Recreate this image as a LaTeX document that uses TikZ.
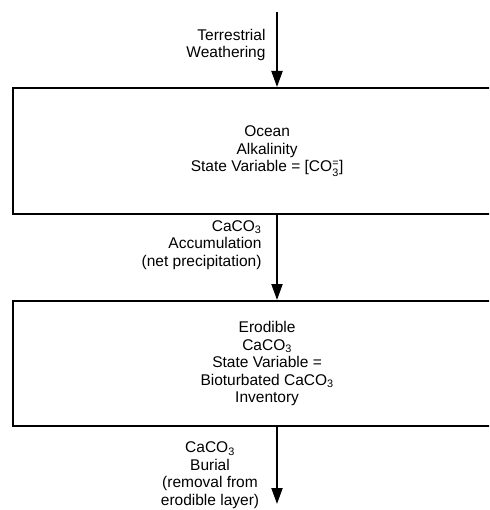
\documentclass[tikz,border=0pt]{standalone}
\usepackage{amsmath}
\usepackage{fontspec}
\setmainfont{Liberation Sans}
\usetikzlibrary{positioning,arrows.meta}
\tikzset{reservoir/.style={draw,line width=2.2pt,minimum width=508pt,align=center,inner sep=0pt,anchor=north west}}
\tikzset{flux/.style={line width=2pt,-{Triangle[length=16pt,width=11pt]}}}
\tikzset{every node/.style={font=\fontsize{15.5}{17.5}\selectfont}}
\newcommand{\cothree}{CO\textsubscript{3}}

\begin{document}
\begin{tikzpicture}[x=1pt,y=-1pt]
  \useasboundingbox (0,0) rectangle (489,510);
  \clip (0,0) rectangle (489,510);
  % reservoirs
  \node[reservoir,minimum height=126pt] (ocean) at (12,87)
    {Ocean\\Alkalinity\\State Variable = [CO$_{\text{3}}^{\text{=}}$]};
  \node[reservoir,minimum height=125pt] (erod) at (12,300)
    {Erodible\\Ca\cothree\\State Variable =\\Bioturbated Ca\cothree\\Inventory};
  % fluxes
  \coordinate (weath) at (277,12);
  \coordinate (burial) at (277,504);
  \draw[flux] (weath) -- (weath |- ocean.north);
  \draw[flux] (weath |- ocean.south) -- (weath |- erod.north);
  \draw[flux] (burial |- erod.south) -- (burial);
  \node[anchor=east,align=right] (weathlbl) at (269,45) {Terrestrial\\Weathering};
  \node[anchor=east,align=right] (accumlbl) at (265,245) {Ca\cothree\\Accumulation\\(net precipitation)};
  \node[align=center] (buriallbl) at (210,475) {Ca\cothree\\Burial\\(removal from\\erodible layer)};
\end{tikzpicture}
\end{document}
